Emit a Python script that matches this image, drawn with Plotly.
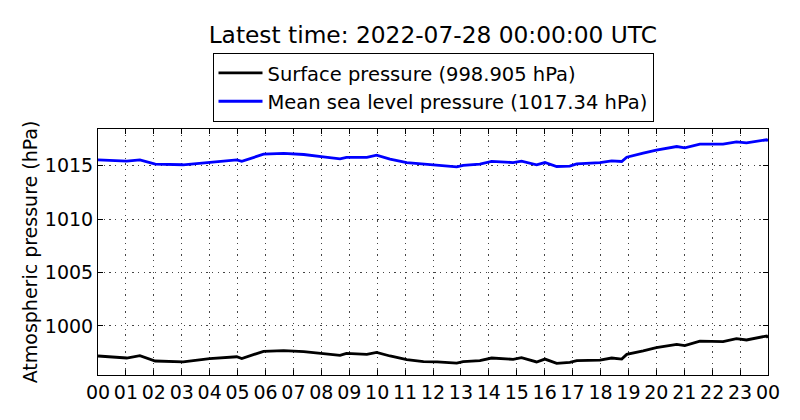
import plotly.graph_objects as go

hours_msl = [0, 1.03, 1.5, 2.05, 3.05, 4.0, 4.97, 5.15, 5.93, 6.65, 7.37, 8.07, 8.67, 8.9, 9.63, 9.98, 10.46,
             11.06, 11.66, 12.15, 12.85, 13.08, 13.68, 14.1, 14.87, 15.17, 15.71, 16.01, 16.43, 16.9,
             17.15, 17.98, 18.4, 18.76, 18.94, 19.53, 20.0, 20.73, 21.02, 21.56, 22.39, 22.87, 23.23, 23.95, 24.0]
msl = [1015.56, 1015.44, 1015.56, 1015.16, 1015.1, 1015.34, 1015.56, 1015.42, 1016.09, 1016.16, 1016.06,
       1015.84, 1015.66, 1015.8, 1015.8, 1016.0, 1015.63, 1015.31, 1015.16, 1015.1, 1014.9, 1015.05,
       1015.16, 1015.41, 1015.31, 1015.44, 1015.1, 1015.31, 1014.94, 1014.97, 1015.19, 1015.31, 1015.47,
       1015.41, 1015.81, 1016.19, 1016.47, 1016.81, 1016.69, 1017.03, 1017.03, 1017.25, 1017.16, 1017.44, 1017.34]

hours_sfc = hours_msl
sfc = [997.19, 997.0, 997.22, 996.72, 996.63, 996.94, 997.12, 996.95, 997.63, 997.69, 997.6,
       997.38, 997.25, 997.44, 997.35, 997.53, 997.19, 996.84, 996.66, 996.63, 996.53, 996.66,
       996.75, 997.0, 996.88, 997.03, 996.63, 996.9, 996.5, 996.6, 996.75, 996.81, 997.0,
       996.9, 997.34, 997.66, 997.97, 998.28, 998.16, 998.59, 998.53, 998.81, 998.69, 999.06, 998.905]

tick_vals = list(range(0, 25))
tick_text = ["%02d" % (h % 24) for h in tick_vals]
y_ticks = [1000, 1005, 1010, 1015]

font = "DejaVu Sans"
fig = go.Figure()
fig.add_trace(go.Scatter(x=hours_sfc, y=sfc, mode="lines", name="Surface pressure (998.905 hPa)",
                         line=dict(color="black", width=2.8)))
fig.add_trace(go.Scatter(x=hours_msl, y=msl, mode="lines", name="Mean sea level pressure (1017.34 hPa)",
                         line=dict(color="#0000ff", width=2.8)))

axis_common = dict(showline=True, linecolor="black", linewidth=1, mirror="ticks", ticks="inside",
                   ticklen=5, tickcolor="black", showgrid=True, gridcolor="#444444", griddash="1.3px,4.4px",
                   gridwidth=1, zeroline=False, automargin=False,
                   tickfont=dict(family=font, size=19, color="black"))

fig.update_xaxes(range=[0, 24], tickmode="array", tickvals=tick_vals, ticktext=tick_text, **axis_common)
fig.update_yaxes(range=[995.41, 1018.45], tickmode="array", tickvals=y_ticks,
                 title=dict(text="Atmospheric pressure (hPa)", font=dict(family=font, size=19, color="black"),
                            standoff=2),
                 **axis_common)

fig.update_layout(
    width=800, height=420,
    margin=dict(l=98, r=32, t=129, b=45),
    paper_bgcolor="white", plot_bgcolor="white",
    font=dict(family=font, size=19, color="black"),
    title=dict(text="Latest time: 2022-07-28 00:00:00 UTC", x=0.541, xanchor="center",
               y=0.917, yanchor="middle", yref="container",
               font=dict(family=font, size=23.3, color="black")),
    legend=dict(x=0.5, xanchor="center", y=1.31, yanchor="top", bordercolor="black", borderwidth=1,
                bgcolor="white", font=dict(family=font, size=19.5, color="black"),
                tracegroupgap=0, itemwidth=44),
    showlegend=True,
)

fig.write_html("out.html", config={"displayModeBar": False},
               post_script="document.body.style.margin='0px';")
